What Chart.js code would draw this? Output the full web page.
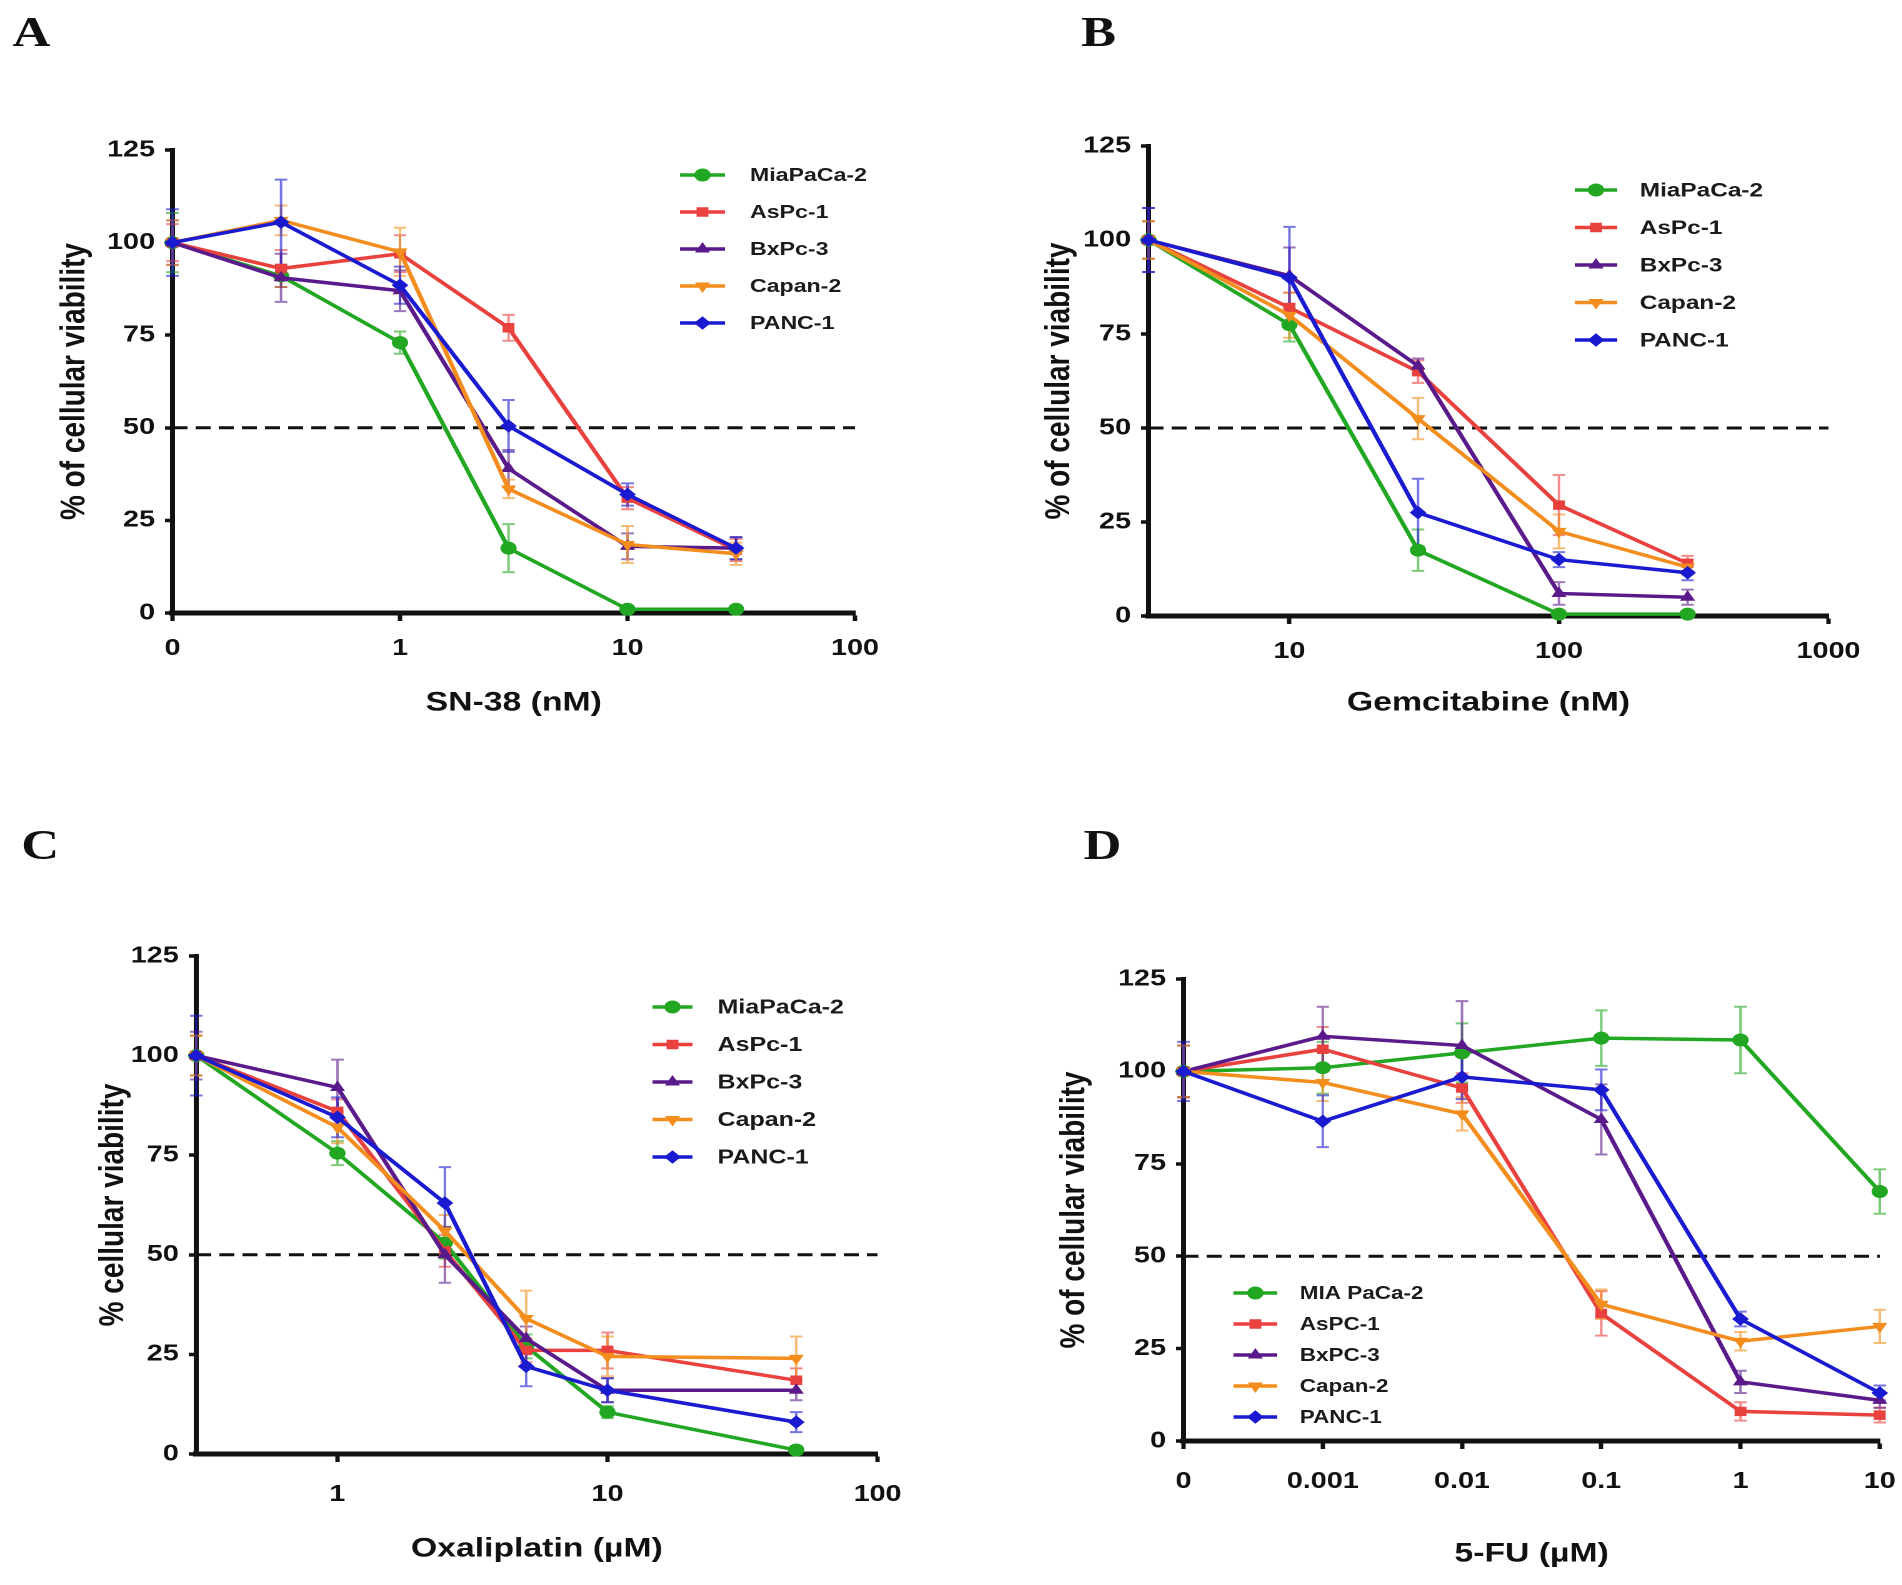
<!DOCTYPE html>
<html lang="en">

<head>
    <meta charset="UTF-8">
    <title>Cell viability of pancreatic cancer lines</title>
    <style>
        body {
            margin: 0;
            width: 1902px;
            height: 1585px;
            background: #fff;
            overflow: hidden;
            position: relative;
        }

        /* the original figure is stretched sideways, so every panel is drawn narrow and widened */
        .panel {
            position: absolute;
            width: 761px;
            transform: scaleX(1.25);
            transform-origin: 0 0;
        }

        .letter {
            position: absolute;
            font: bold 42px "Liberation Serif", "Times New Roman", serif;
            line-height: 1;
            color: #111;
        }
    </style>
</head>

<body>
    <div class="panel" style="left:0;top:0;height:792px">
        <canvas id="chartA" width="761" height="792"></canvas>
        <div class="letter" style="left:10px;top:11px">A</div>
    </div>
    <div class="panel" style="left:951px;top:0;height:792px">
        <canvas id="chartB" width="761" height="792"></canvas>
        <div class="letter" style="left:104px;top:11px">B</div>
    </div>
    <div class="panel" style="left:0;top:792px;height:793px">
        <canvas id="chartC" width="761" height="793"></canvas>
        <div class="letter" style="left:17px;top:32px">C</div>
    </div>
    <div class="panel" style="left:951px;top:792px;height:793px">
        <canvas id="chartD" width="761" height="793"></canvas>
        <div class="letter" style="left:106px;top:32px">D</div>
    </div>

    <script src="https://cdn.jsdelivr.net/npm/chart.js@4"></script>
    <script>
        const cellLines = ['MiaPaCa-2', 'AsPc-1', 'BxPc-3', 'Capan-2', 'PANC-1'];
        const cellLinesD = ['MIA PaCa-2', 'AsPC-1', 'BxPC-3', 'Capan-2', 'PANC-1'];

        // A: SN-38 (nM), the lowest dose sits on the "0" tick
        const doseA = [0.1, 0.3, 1, 3, 10, 30];
        const ticksA = [0.1, 1, 10, 100];
        const tickLabelsA = ['0', '1', '10', '100'];
        const viabilityA = [
            [100, 91, 73, 17.5, 1, 1],
            [100, 93, 97, 77, 31, 17],
            [100, 90.5, 87, 39, 18, 17.5],
            [100, 106, 97.5, 33.5, 18.5, 16],
            [100, 105.5, 88.5, 50.5, 32, 17.5]
        ];
        const errorA = [
            [8, 3, 3, 6.5, 1, 1],
            [5, 5, 5, 3.5, 3, 3],
            [6, 6.5, 5.5, 5, 3.5, 3],
            [6, 4, 6.5, 2.5, 5, 3],
            [9, 11.5, 5, 7, 3, 3]
        ];

        // B: Gemcitabine (nM)
        const doseB = [3, 10, 30, 100, 300];
        const ticksB = [10, 100, 1000];
        const tickLabelsB = ['10', '100', '1000'];
        const viabilityB = [
            [100, 77.5, 17.5, 0.5, 0.5],
            [100, 82, 65, 29.5, 14],
            [100, 90.5, 66.5, 6, 5],
            [100, 80, 52.5, 22.5, 13],
            [100, 90, 27.5, 15, 11.5]
        ];
        const errorB = [
            [5, 4.5, 5.5, 0.5, 0.5],
            [5, 4, 3, 8, 2],
            [8.5, 7.5, 2, 3, 2],
            [5, 6, 5.5, 4.5, 2],
            [8.5, 13.5, 9, 2, 2]
        ];

        // C: Oxaliplatin (µM)
        const doseC = [0.3, 1, 2.5, 5, 10, 50];
        const ticksC = [1, 10, 100];
        const tickLabelsC = ['1', '10', '100'];
        const viabilityC = [
            [100, 75.5, 53, 27, 10.5, 1],
            [100, 86, 51, 26, 26, 18.5],
            [100, 92, 50, 29, 16, 16],
            [100, 82, 56, 34, 24.5, 24],
            [100, 84.5, 63, 22, 16, 8]
        ];
        const errorC = [
            [5, 3, 4, 3, 1.5, 1],
            [5, 3, 4, 3, 4.5, 3],
            [6, 7, 7, 3, 3, 2.5],
            [5, 4, 4, 7, 5, 5.5],
            [10, 5, 9, 5, 3, 2.5]
        ];

        // D: 5-FU (µM), the lowest dose sits on the "0" tick
        const doseD = [0.0001, 0.001, 0.01, 0.1, 1, 10];
        const ticksD = [0.0001, 0.001, 0.01, 0.1, 1, 10];
        const tickLabelsD = ['0', '0.001', '0.01', '0.1', '1', '10'];
        const viabilityD = [
            [100, 101, 105, 109, 108.5, 67.5],
            [100, 106, 95.5, 34.5, 8, 7],
            [100, 109.5, 107, 87, 16, 11],
            [100, 97, 88.5, 37, 27, 31],
            [100, 86.5, 98.5, 95, 33, 13]
        ];
        const errorD = [
            [7, 7, 8, 7.5, 9, 6],
            [7, 6, 4, 6, 2.5, 2],
            [7, 8, 12, 9.5, 3, 2],
            [7, 5, 4.5, 4, 2.5, 4.5],
            [8, 7, 6, 5.5, 2, 2]
        ];

        const yTicks = [0, 25, 50, 75, 100, 125];
        const cutoff = 50;

        const colors = ['#22a722', '#e8413e', '#5b1a8b', '#f28d1e', '#1a1ad0'];
        const errColors = ['rgba(34,167,34,0.6)', 'rgba(232,65,62,0.6)', 'rgba(91,26,139,0.6)', 'rgba(242,141,30,0.6)', 'rgba(26,26,208,0.6)'];
        const markers = [['circle', 0], ['rect', 0], ['triangle', 0], ['triangle', 180], ['rectRot', 0]];

        Chart.defaults.font.family = '"Liberation Sans", Arial, sans-serif';
        Chart.defaults.color = '#111';

        function drawMarker(ctx, style, rot, x, y, r, color) {
            ctx.save();
            ctx.fillStyle = color;
            ctx.strokeStyle = color;
            ctx.lineWidth = 1;
            if (Chart.helpers && Chart.helpers.drawPoint) {
                Chart.helpers.drawPoint(ctx, { pointStyle: style, rotation: rot, radius: r, borderWidth: 1 }, x, y);
            } else {
                ctx.beginPath();
                ctx.arc(x, y, r, 0, Math.PI * 2);
                ctx.fill();
            }
            ctx.restore();
        }

        const errorBars = {
            id: 'errorBars',
            beforeDatasetsDraw(chart) {
                const { ctx } = chart;
                const y = chart.scales.y;
                chart.data.datasets.forEach((ds, i) => {
                    if (!ds.errors) return;
                    const meta = chart.getDatasetMeta(i);
                    ctx.save();
                    ctx.strokeStyle = ds.errorColor;
                    ctx.lineWidth = 2;
                    meta.data.forEach((pt, j) => {
                        const top = y.getPixelForValue(ds.data[j].y + ds.errors[j]);
                        const bot = y.getPixelForValue(ds.data[j].y - ds.errors[j]);
                        ctx.beginPath();
                        ctx.moveTo(pt.x, top); ctx.lineTo(pt.x, bot);
                        ctx.moveTo(pt.x - 5, top); ctx.lineTo(pt.x + 5, top);
                        ctx.moveTo(pt.x - 5, bot); ctx.lineTo(pt.x + 5, bot);
                        ctx.stroke();
                    });
                    ctx.restore();
                });
            }
        };

        function legendPlugin(names, lg) {
            return {
                id: 'seriesLegend',
                afterDraw(chart) {
                    const ctx = chart.ctx;
                    names.forEach((name, i) => {
                        const y = lg.y0 + i * lg.dy;
                        ctx.save();
                        ctx.strokeStyle = colors[i];
                        ctx.lineWidth = 3.5;
                        ctx.beginPath();
                        ctx.moveTo(lg.x0, y);
                        ctx.lineTo(lg.x1, y);
                        ctx.stroke();
                        ctx.restore();
                        drawMarker(ctx, markers[i][0], markers[i][1], (lg.x0 + lg.x1) / 2, y, 6, colors[i]);
                        ctx.save();
                        ctx.fillStyle = '#1a1a1a';
                        ctx.font = 'bold ' + lg.size + 'px "Liberation Sans", Arial, sans-serif';
                        ctx.textBaseline = 'middle';
                        ctx.fillText(name, lg.tx, y + 1);
                        ctx.restore();
                    });
                }
            };
        }

        function makePanel(id, p) {
            const datasets = p.values.map((vals, i) => ({
                label: p.names[i],
                data: p.doses.map((d, j) => ({ x: d, y: vals[j] })),
                errors: p.errors[i],
                errorColor: errColors[i],
                borderColor: colors[i],
                backgroundColor: colors[i],
                borderWidth: 3.5,
                pointStyle: markers[i][0],
                pointRotation: markers[i][1],
                pointRadius: 6,
                pointBorderWidth: 1,
                clip: false,
                order: 4 - i
            }));
            datasets.push({
                label: 'IC50',
                data: [{ x: p.xMin, y: cutoff }, { x: p.xMax, y: cutoff }],
                borderColor: '#111',
                borderWidth: 3,
                borderDash: [12, 6.5],
                pointRadius: 0,
                order: 10
            });

            const L = p.layout;
            const xLh = 27 * 1.2;
            const yLh = 28 * 1.2;

            new Chart(document.getElementById(id), {
                type: 'line',
                data: { datasets: datasets },
                options: {
                    responsive: false,
                    animation: false,
                    devicePixelRatio: 2,
                    layout: { padding: { left: 0, top: L.top, right: L.W - L.right, bottom: 0 } },
                    plugins: {
                        legend: { display: false },
                        tooltip: { enabled: false }
                    },
                    scales: {
                        x: {
                            type: 'logarithmic',
                            min: p.xMin,
                            max: p.xMax,
                            afterBuildTicks: s => { s.ticks = p.ticks.map(v => ({ value: v })); },
                            afterFit: s => {
                                s.height = L.H - L.bottom;
                                s.paddingLeft = 0;
                                s.paddingRight = 0;
                            },
                            ticks: {
                                callback: (v, i) => p.tickLabels[i],
                                autoSkip: false,
                                maxRotation: 0,
                                padding: L.xTickPad,
                                color: '#111',
                                font: { size: 23, weight: 'bold' }
                            },
                            grid: { drawOnChartArea: false, tickLength: 8, tickWidth: 3.5, color: '#111' },
                            border: { color: '#111', width: 5 },
                            title: {
                                display: true,
                                text: p.xTitle,
                                color: '#111',
                                font: { size: 27, weight: 'bold', lineHeight: 1.2 },
                                padding: { top: 0, bottom: L.H - L.xTitleY - xLh / 2 }
                            }
                        },
                        y: {
                            type: 'linear',
                            min: 0,
                            max: 125,
                            afterBuildTicks: s => { s.ticks = yTicks.map(v => ({ value: v })); },
                            afterFit: s => { s.width = L.left; },
                            ticks: {
                                padding: 8,
                                color: '#111',
                                font: { size: 23, weight: 'bold' }
                            },
                            grid: { drawOnChartArea: false, tickLength: 6, tickWidth: 3.5, color: '#111' },
                            border: { color: '#111', width: 4 },
                            title: {
                                display: true,
                                text: p.yTitle,
                                color: '#111',
                                font: { size: 28, weight: 'bold', lineHeight: 1.2 },
                                padding: { top: L.yTitleX - yLh / 2, bottom: 0 }
                            }
                        }
                    }
                },
                plugins: [errorBars, legendPlugin(p.names, L.legend)]
            });
        }

        makePanel('chartA', {
            names: cellLines, doses: doseA, values: viabilityA, errors: errorA,
            ticks: ticksA, tickLabels: tickLabelsA, xMin: 0.1, xMax: 100,
            xTitle: 'SN-38 (nM)', yTitle: '% of cellular viability',
            layout: {
                W: 761, H: 792, left: 138, right: 684, top: 150, bottom: 613,
                yTitleX: 60, xTitleY: 703, xTickPad: 14,
                legend: { x0: 544, x1: 580, tx: 600, y0: 175, dy: 37, size: 18.5 }
            }
        });

        makePanel('chartB', {
            names: cellLines, doses: doseB, values: viabilityB, errors: errorB,
            ticks: ticksB, tickLabels: tickLabelsB, xMin: 3, xMax: 1000,
            xTitle: 'Gemcitabine (nM)', yTitle: '% of cellular viability',
            layout: {
                W: 761, H: 792, left: 158, right: 702, top: 146, bottom: 616,
                yTitleX: 87, xTitleY: 703, xTickPad: 14,
                legend: { x0: 499, x1: 533, tx: 551, y0: 190, dy: 37.5, size: 19.5 }
            }
        });

        makePanel('chartC', {
            names: cellLines, doses: doseC, values: viabilityC, errors: errorC,
            ticks: ticksC, tickLabels: tickLabelsC, xMin: 0.3, xMax: 100,
            xTitle: 'Oxaliplatin (µM)', yTitle: '% cellular viability',
            layout: {
                W: 761, H: 793, left: 157, right: 702, top: 164, bottom: 662,
                yTitleX: 91, xTitleY: 757, xTickPad: 19,
                legend: { x0: 522, x1: 554, tx: 574, y0: 215, dy: 37.5, size: 20 }
            }
        });

        makePanel('chartD', {
            names: cellLinesD, doses: doseD, values: viabilityD, errors: errorD,
            ticks: ticksD, tickLabels: tickLabelsD, xMin: 0.0001, xMax: 10,
            xTitle: '5-FU (µM)', yTitle: '% of cellular viability',
            layout: {
                W: 761, H: 793, left: 186, right: 743, top: 187, bottom: 649,
                yTitleX: 99, xTitleY: 762, xTickPad: 19,
                legend: { x0: 226, x1: 261, tx: 279, y0: 501, dy: 31, size: 18 }
            }
        });
    </script>
</body>

</html>
